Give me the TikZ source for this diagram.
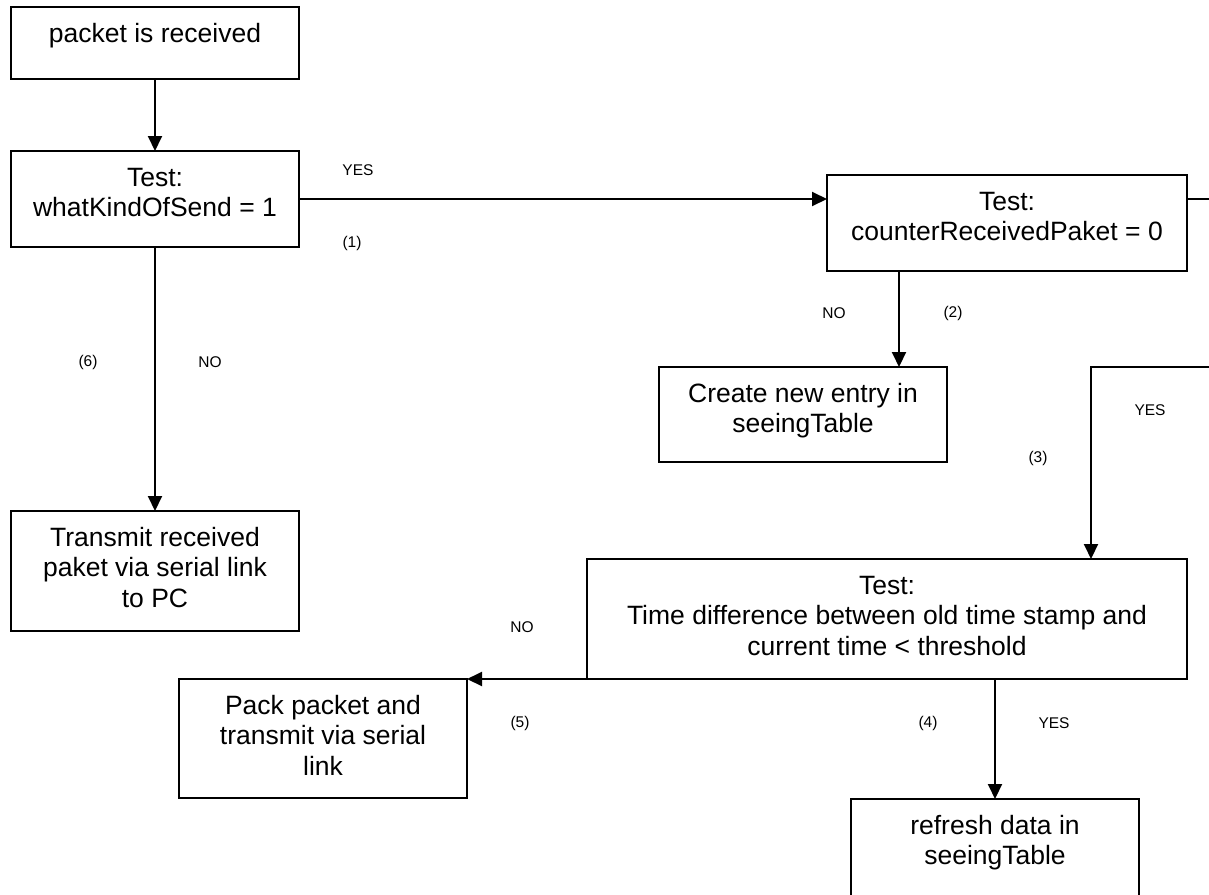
\documentclass[tikz,border=0pt]{standalone}
\usepackage{fontspec}
\setmainfont{Liberation Sans}
\usetikzlibrary{arrows.meta,calc}
% box text: fixed-size parbox, first baseline 35pt below the top edge
\newcommand\boxcontent[3]{\parbox[c][#2pt][t]{#1pt}{\centering\rule{0pt}{35pt}#3}}
\begin{document}
\begin{tikzpicture}[x=1pt,y=-1pt,
  box/.style={draw, line width=2pt, inner sep=0pt, outer sep=0pt, anchor=north west,
    font=\fontsize{26.5}{30.5}\selectfont},
  flow/.style={line width=2pt, -{Triangle[length=15pt,width=14pt]}},
  tag/.style={font=\fontsize{15.5}{18}\selectfont, inner sep=0pt}]
\useasboundingbox (0,0) rectangle (1209,894);
\clip (0,0) rectangle (1209,894);
\fill[white] (0,0) rectangle (1209,894);

% process and test boxes
\node[box] (pkt)     at (11,7)    {\boxcontent{288}{72}{packet is received}};
\node[box] (kind)    at (11,151)  {\boxcontent{288}{96}{Test:\\whatKindOfSend = 1}};
\node[box] (cnt)     at (827,175) {\boxcontent{360}{96}{Test:\\counterReceivedPaket = 0}};
\node[box] (entry)   at (659,367) {\boxcontent{288}{95}{Create new entry in\\seeingTable}};
\node[box] (tx)      at (11,511)  {\boxcontent{288}{120}{Transmit received\\paket via serial link\\to PC}};
\node[box] (tdiff)   at (587,559) {\boxcontent{600}{120}{Test:\\Time difference between old time stamp and\\current time < threshold}};
\node[box] (pack)    at (179,679) {\boxcontent{288}{119}{Pack packet and\\transmit via serial\\link}};
\node[box] (refresh) at (851,799) {\boxcontent{288}{120}{refresh data in\\seeingTable}};

% helper points for connectors
\coordinate (cntDown) at ($(cnt.south west)+(72,0)$);
\coordinate (loopOutA) at (1240,199);
\coordinate (loopOutB) at (1240,367);
\coordinate (loopIn)   at (1091,367);

% connectors
\draw[flow] (pkt.south) -- (kind.north);
\draw[flow] (kind.east) -- (kind.east -| cnt.west);
\draw[flow] (kind.south) -- (tx.north);
\draw[flow] (cntDown) -- (cntDown |- entry.north);
\draw[flow] (kind.east -| cnt.east) -- (loopOutA) -- (loopOutB) -- (loopIn) -- (loopIn |- tdiff.north);
\draw[flow] (tdiff.south west) -- (pack.north east);
\draw[flow] (refresh.north |- tdiff.south) -- (refresh.north);

% branch labels
\node[tag] (yes1) at (358,170)  {YES};
\node[tag] (n1)   at (352,243)  {(1)};
\node[tag] (no2)  at (834,313)  {NO};
\node[tag] (n2)   at (953,313)  {(2)};
\node[tag] (n6)   at (88,362)   {(6)};
\node[tag] (no6)  at (210,362)  {NO};
\node[tag] (yes3) at (1150,410) {YES};
\node[tag] (n3)   at (1038,458) {(3)};
\node[tag] (no5)  at (522,627)  {NO};
\node[tag] (n5)   at (520,723)  {(5)};
\node[tag] (n4)   at (928,723)  {(4)};
\node[tag] (yes4) at (1054,723) {YES};
\end{tikzpicture}
\end{document}
